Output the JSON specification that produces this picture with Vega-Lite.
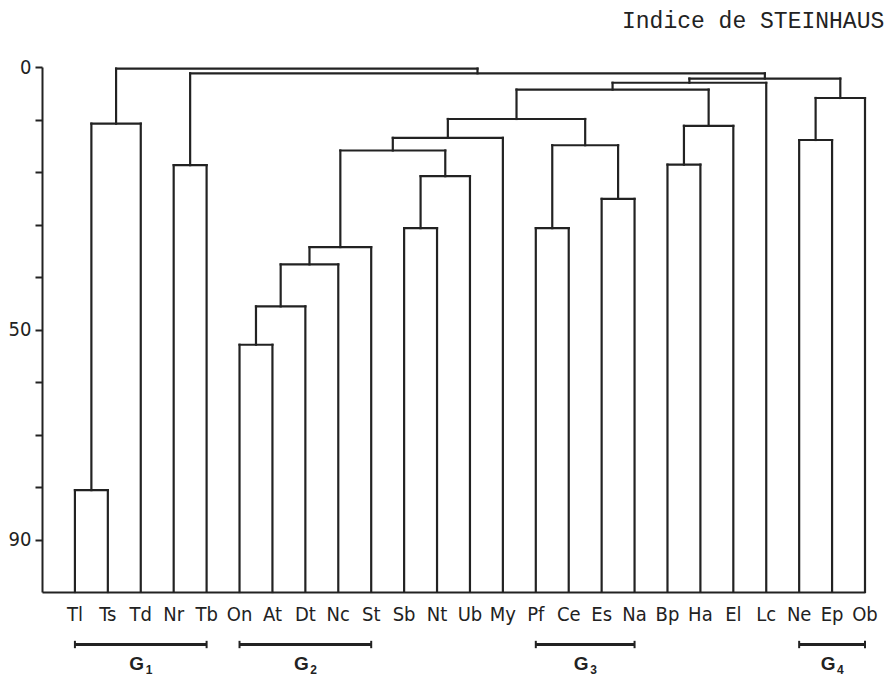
{
  "$schema": "https://vega.github.io/schema/vega-lite/v6.json",
  "width": 823,
  "height": 525,
  "autosize": {"type": "none"},
  "padding": {"left": 42, "top": 67, "right": 22, "bottom": 94},
  "background": "white",
  "config": {"view": {"stroke": null}},
  "title": {
    "text": "Indice de STEINHAUS",
    "anchor": "start",
    "frame": "group",
    "dx": 580,
    "offset": 6,
    "font": "Liberation Mono",
    "fontSize": 23,
    "fontWeight": "normal",
    "color": "#222222",
    "baseline": "alphabetic"
  },
  "datasets": {
    "merges": [
      {"node": "Tl-Ts", "xl": 0, "xr": 1, "hl": 100, "hr": 100, "h": 80.6},
      {"node": "A", "xl": 0.5, "xr": 2, "hl": 80.6, "hr": 100, "h": 10.8},
      {"node": "Nr-Tb", "xl": 3, "xr": 4, "hl": 100, "hr": 100, "h": 18.7},
      {"node": "On-At", "xl": 5, "xr": 6, "hl": 100, "hr": 100, "h": 52.9},
      {"node": "Q2", "xl": 5.5, "xr": 7, "hl": 52.9, "hr": 100, "h": 45.6},
      {"node": "Q1", "xl": 6.25, "xr": 8, "hl": 45.6, "hr": 100, "h": 37.6},
      {"node": "Q", "xl": 7.125, "xr": 9, "hl": 37.6, "hr": 100, "h": 34.3},
      {"node": "Sb-Nt", "xl": 10, "xr": 11, "hl": 100, "hr": 100, "h": 30.7},
      {"node": "R", "xl": 10.5, "xr": 12, "hl": 30.7, "hr": 100, "h": 20.8},
      {"node": "P", "xl": 8.0625, "xr": 11.25, "hl": 34.3, "hr": 20.8, "h": 15.9},
      {"node": "L", "xl": 9.65625, "xr": 13, "hl": 15.9, "hr": 100, "h": 13.5},
      {"node": "Pf-Ce", "xl": 14, "xr": 15, "hl": 100, "hr": 100, "h": 30.7},
      {"node": "Es-Na", "xl": 16, "xr": 17, "hl": 100, "hr": 100, "h": 25.1},
      {"node": "M", "xl": 14.5, "xr": 16.5, "hl": 30.7, "hr": 25.1, "h": 14.9},
      {"node": "I", "xl": 11.328125, "xr": 15.5, "hl": 13.5, "hr": 14.9, "h": 9.9},
      {"node": "Bp-Ha", "xl": 18, "xr": 19, "hl": 100, "hr": 100, "h": 18.6},
      {"node": "J", "xl": 18.5, "xr": 20, "hl": 18.6, "hr": 100, "h": 11.2},
      {"node": "H", "xl": 13.4140625, "xr": 19.25, "hl": 9.9, "hr": 11.2, "h": 4.3},
      {"node": "E", "xl": 16.33203125, "xr": 21, "hl": 4.3, "hr": 100, "h": 3.0},
      {"node": "Ne-Ep", "xl": 22, "xr": 23, "hl": 100, "hr": 100, "h": 13.9},
      {"node": "F", "xl": 22.5, "xr": 24, "hl": 13.9, "hr": 100, "h": 5.9},
      {"node": "D", "xl": 18.666015625, "xr": 23.25, "hl": 3.0, "hr": 5.9, "h": 2.2},
      {"node": "B", "xl": 3.5, "xr": 20.9580078125, "hl": 18.7, "hr": 2.2, "h": 1.2},
      {"node": "Root", "xl": 1.25, "xr": 12.22900390625, "hl": 10.8, "hr": 1.2, "h": 0.3}
    ],
    "leaves": [
      {"leaf": "Tl", "pos": 0}, {"leaf": "Ts", "pos": 1}, {"leaf": "Td", "pos": 2},
      {"leaf": "Nr", "pos": 3}, {"leaf": "Tb", "pos": 4}, {"leaf": "On", "pos": 5},
      {"leaf": "At", "pos": 6}, {"leaf": "Dt", "pos": 7}, {"leaf": "Nc", "pos": 8},
      {"leaf": "St", "pos": 9}, {"leaf": "Sb", "pos": 10}, {"leaf": "Nt", "pos": 11},
      {"leaf": "Ub", "pos": 12}, {"leaf": "My", "pos": 13}, {"leaf": "Pf", "pos": 14},
      {"leaf": "Ce", "pos": 15}, {"leaf": "Es", "pos": 16}, {"leaf": "Na", "pos": 17},
      {"leaf": "Bp", "pos": 18}, {"leaf": "Ha", "pos": 19}, {"leaf": "El", "pos": 20},
      {"leaf": "Lc", "pos": 21}, {"leaf": "Ne", "pos": 22}, {"leaf": "Ep", "pos": 23},
      {"leaf": "Ob", "pos": 24}
    ],
    "groups": [
      {"g": "G", "sub": "1", "from": 0, "to": 4, "center": 2},
      {"g": "G", "sub": "2", "from": 5, "to": 9, "center": 7},
      {"g": "G", "sub": "3", "from": 14, "to": 17, "center": 15.5},
      {"g": "G", "sub": "4", "from": 22, "to": 24, "center": 23}
    ]
  },
  "encoding": {
    "x": {
      "type": "quantitative",
      "scale": {"domain": [-1, 24], "nice": false, "zero": false},
      "axis": {"domain": true, "domainColor": "#222222", "domainWidth": 2, "ticks": false, "labels": false, "grid": false, "title": null}
    },
    "y": {
      "type": "quantitative",
      "scale": {"domain": [0, 100], "reverse": true, "nice": false, "zero": false},
      "axis": {
        "values": [0, 10, 20, 30, 40, 50, 60, 70, 80, 90],
        "labelExpr": "datum.value == 0 || datum.value == 50 || datum.value == 90 ? datum.label : ''",
        "domainColor": "#222222", "domainWidth": 2,
        "tickColor": "#222222", "tickWidth": 2, "tickSize": 7,
        "labelFont": "DejaVu Sans Condensed, Liberation Sans",
        "labelFontSize": 20, "labelColor": "#222222", "labelPadding": 4,
        "grid": false, "title": null
      }
    }
  },
  "layer": [
    {
      "data": {"name": "merges"},
      "mark": {"type": "rule", "strokeWidth": 2.2, "color": "#222222", "strokeCap": "square"},
      "encoding": {"x": {"field": "xl"}, "x2": {"field": "xr"}, "y": {"field": "h"}}
    },
    {
      "data": {"name": "merges"},
      "mark": {"type": "rule", "strokeWidth": 2.2, "color": "#222222", "strokeCap": "square"},
      "encoding": {"x": {"field": "xl"}, "y": {"field": "hl"}, "y2": {"field": "h"}}
    },
    {
      "data": {"name": "merges"},
      "mark": {"type": "rule", "strokeWidth": 2.2, "color": "#222222", "strokeCap": "square"},
      "encoding": {"x": {"field": "xr"}, "y": {"field": "hr"}, "y2": {"field": "h"}}
    },
    {
      "data": {"name": "leaves"},
      "mark": {"type": "text", "align": "center", "baseline": "alphabetic", "font": "DejaVu Sans Condensed, Liberation Sans", "fontSize": 20, "color": "#222222"},
      "encoding": {"x": {"field": "pos"}, "y": {"datum": 105.5}, "text": {"field": "leaf"}}
    },
    {
      "data": {"name": "groups"},
      "mark": {"type": "rule", "strokeWidth": 3, "color": "#222222"},
      "encoding": {"x": {"field": "from"}, "x2": {"field": "to"}, "y": {"datum": 110}}
    },
    {
      "data": {"name": "groups"},
      "mark": {"type": "rule", "strokeWidth": 2, "color": "#222222"},
      "encoding": {"x": {"field": "from"}, "y": {"datum": 109.3}, "y2": {"datum": 110.7}}
    },
    {
      "data": {"name": "groups"},
      "mark": {"type": "rule", "strokeWidth": 2, "color": "#222222"},
      "encoding": {"x": {"field": "to"}, "y": {"datum": 109.3}, "y2": {"datum": 110.7}}
    },
    {
      "data": {"name": "groups"},
      "mark": {"type": "text", "align": "center", "baseline": "alphabetic", "dx": -4, "font": "Liberation Sans", "fontWeight": "bold", "fontSize": 19, "color": "#222222"},
      "encoding": {"x": {"field": "center"}, "y": {"datum": 114.8}, "text": {"field": "g"}}
    },
    {
      "data": {"name": "groups"},
      "mark": {"type": "text", "align": "left", "baseline": "alphabetic", "dx": 5, "font": "Liberation Sans", "fontWeight": "bold", "fontSize": 12, "color": "#222222"},
      "encoding": {"x": {"field": "center"}, "y": {"datum": 115.7}, "text": {"field": "sub"}}
    }
  ]
}
